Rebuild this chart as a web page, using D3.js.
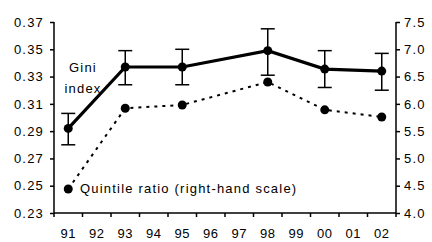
<!DOCTYPE html>
<html lang="en">
  <head>
    <meta charset="UTF-8" />
    <title></title>
    <script src="https://d3js.org/d3.v7.min.js"></script>
    <style>
      body { margin: 0; background: #fff; }
      text { font-family: 'Liberation Sans', Arial, sans-serif; fill: #000; }
    </style>
  </head>
  <body>
    <svg id="chart" width="432" height="242"></svg>
    <script>
      // Data
      const years = ['91', '92', '93', '94', '95', '96', '97', '98', '99', '00', '01', '02']
      const giniYears = ['91', '93', '95', '98', '00', '02']
      const gini = [0.292, 0.337, 0.337, 0.349, 0.3355, 0.334]
      const giniHigh = [0.303, 0.349, 0.350, 0.365, 0.349, 0.347]
      const giniLow = [0.280, 0.324, 0.324, 0.331, 0.322, 0.320]
      const quintile = [4.44, 5.92, 5.98, 6.40, 5.89, 5.76]
      const leftTicks = [0.23, 0.25, 0.27, 0.29, 0.31, 0.33, 0.35, 0.37]
      const rightTicks = [4.0, 4.5, 5.0, 5.5, 6.0, 6.5, 7.0, 7.5]

      const svg = d3.select('svg')
      const mLeft = 54, mRight = 396, mTop = 22, mBottom = 213

      const x = d3.scaleBand().domain(years).range([mLeft, mRight])
      const yL = d3.scaleLinear().domain([0.23, 0.37]).range([mBottom, mTop])
      const yR = d3.scaleLinear().domain([4.0, 7.5]).range([mBottom, mTop])
      const cx = d => x(d) + x.bandwidth() / 2

      // Axes
      const axisL = svg.append('g').attr('transform', `translate(${mLeft},0)`)
        .call(d3.axisLeft(yL).tickValues(leftTicks).tickFormat(d3.format('.2f')).tickSize(4).tickPadding(6))
      const axisR = svg.append('g').attr('transform', `translate(${mRight},0)`)
        .call(d3.axisRight(yR).tickValues(rightTicks).tickFormat(d3.format('.1f')).tickSize(4).tickPadding(4))
      const axisB = svg.append('g').attr('transform', `translate(0,${mBottom})`)
        .call(d3.axisBottom(x).tickSize(0).tickPadding(16))

      // band boundary ticks on x axis
      const edges = years.map(d => x(d)).concat([mRight])
      axisB.selectAll('line.edge').data(edges).join('line')
        .attr('class', 'edge')
        .attr('x1', d => d).attr('x2', d => d)
        .attr('y1', 0).attr('y2', 4)
        .attr('stroke', '#000').attr('stroke-width', 1.5)

      ;[axisL, axisR, axisB].forEach(g => {
        g.select('.domain').attr('stroke', '#000').attr('stroke-width', 1.5)
        g.selectAll('.tick line').attr('stroke', '#000').attr('stroke-width', 1.5)
        g.selectAll('text').style('font-size', '13px').style('letter-spacing', '1.2px').attr('fill', '#000')
      })
      axisB.selectAll('text').style('letter-spacing', '0.6px')
      axisL.select('.domain').attr('d', `M0,${mTop}V${mBottom}`)
      axisR.select('.domain').attr('d', `M0,${mTop}V${mBottom}`)
      axisB.select('.domain').attr('d', `M${mLeft},0H${mRight}`)

      // Quintile ratio (dotted, right scale)
      svg.append('path')
        .datum(giniYears.map((d, i) => [cx(d), yR(quintile[i])]))
        .attr('d', d3.line())
        .attr('fill', 'none').attr('stroke', '#000')
        .attr('stroke-width', 2).attr('stroke-dasharray', '3,5')
      svg.selectAll('circle.q').data(giniYears).join('circle')
        .attr('class', 'q')
        .attr('cx', d => cx(d)).attr('cy', (d, i) => yR(quintile[i]))
        .attr('r', 4.5).attr('fill', '#000')

      // Error bars
      const eb = svg.append('g').attr('stroke', '#000').attr('stroke-width', 1.5)
      giniYears.forEach((d, i) => {
        eb.append('line').attr('x1', cx(d)).attr('x2', cx(d))
          .attr('y1', yL(giniHigh[i])).attr('y2', yL(giniLow[i]))
        ;[giniHigh[i], giniLow[i]].forEach(v => {
          eb.append('line').attr('x1', cx(d) - 7).attr('x2', cx(d) + 7)
            .attr('y1', yL(v)).attr('y2', yL(v))
        })
      })

      // Gini index (solid, left scale)
      svg.append('path')
        .datum(giniYears.map((d, i) => [cx(d), yL(gini[i])]))
        .attr('d', d3.line())
        .attr('fill', 'none').attr('stroke', '#000').attr('stroke-width', 3.2)
      svg.selectAll('circle.g').data(giniYears).join('circle')
        .attr('class', 'g')
        .attr('cx', d => cx(d)).attr('cy', (d, i) => yL(gini[i]))
        .attr('r', 4.5).attr('fill', '#000')

      // Labels
      const lab = (tx, ty, s, anchor) => svg.append('text')
        .attr('x', tx).attr('y', ty).attr('text-anchor', anchor)
        .style('font-size', '13px').style('letter-spacing', '1.2px').text(s)
      lab(83, 72, 'Gini', 'middle')
      lab(83, 93, 'index', 'middle')
      lab(80, 193, 'Quintile ratio (right-hand scale)', 'start')
    </script>
  </body>
</html>
